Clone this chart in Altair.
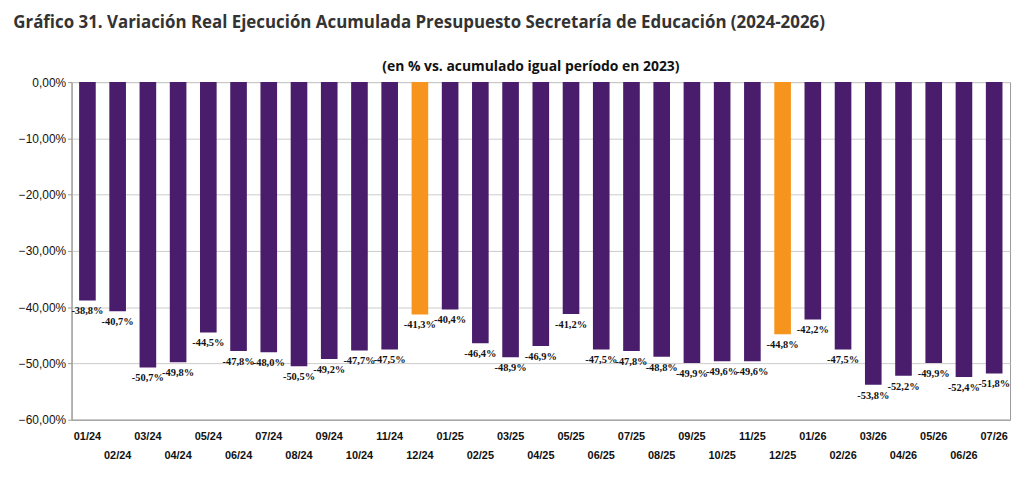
import altair as alt
import pandas as pd

months = ["01/24", "02/24", "03/24", "04/24", "05/24", "06/24", "07/24", "08/24", "09/24", "10/24", "11/24", "12/24",
          "01/25", "02/25", "03/25", "04/25", "05/25", "06/25", "07/25", "08/25", "09/25", "10/25", "11/25", "12/25",
          "01/26", "02/26", "03/26", "04/26", "05/26", "06/26", "07/26"]
values = [-38.8, -40.7, -50.7, -49.8, -44.5, -47.8, -48.0, -50.5, -49.2, -47.7, -47.5, -41.3,
          -40.4, -46.4, -48.9, -46.9, -41.2, -47.5, -47.8, -48.8, -49.9, -49.6, -49.6, -44.8,
          -42.2, -47.5, -53.8, -52.2, -49.9, -52.4, -51.8]
highlight = ["12/24", "12/25"]

df = pd.DataFrame({"mes": months, "valor": [v / 100 for v in values]})
df["label"] = [("%.1f%%" % v).replace(".", ",") for v in values]
df["tipo"] = ["dic" if m in highlight else "mes" for m in months]
df["row"] = [i % 2 for i in range(len(months))]

W, H = 945, 340
x = alt.X("mes:N", sort=months, title=None,
          scale=alt.Scale(paddingInner=0.45, paddingOuter=0.25),
          axis=alt.Axis(labels=False, ticks=False, domainColor="#999"))
base = alt.Chart(df).encode(x=x)

bars = base.mark_bar().encode(
    y=alt.Y("valor:Q", scale=alt.Scale(domain=[-0.6, 0]), title=None,
            axis=alt.Axis(values=[0, -0.1, -0.2, -0.3, -0.4, -0.5, -0.6],
                          labelExpr="replace(format(datum.value, '.2%'), '.', ',')",
                          labelFontSize=12, labelFont="Liberation Sans", labelColor="#111",
                          labelPadding=2, tickSize=4,
                          gridColor="#ccc", tickColor="#999", domainColor="#999")),
    color=alt.Color("tipo:N", scale=alt.Scale(domain=["mes", "dic"], range=["#4A1D6C", "#F7941D"]), legend=None),
)
labels = base.mark_text(baseline="top", dy=6, fontSize=10.5, fontWeight="bold",
                        font="Liberation Sans Narrow", color="#111").encode(
    y="valor:Q", text="label:N")
xlab0 = base.transform_filter("datum.row == 0").mark_text(
    fontSize=11, fontWeight="bold", font="Liberation Sans", color="#111").encode(
    y=alt.value(H + 17), text="mes:N")
xlab1 = base.transform_filter("datum.row == 1").mark_text(
    fontSize=11, fontWeight="bold", font="Liberation Sans", color="#111").encode(
    y=alt.value(H + 37), text="mes:N")
sub = alt.Chart(pd.DataFrame({"t": ["(en % vs. acumulado igual período en 2023)"]})).mark_text(
    fontSize=14, fontWeight="bold", font="Open Sans", color="#111").encode(
    x=alt.value(W / 2 - 10), y=alt.value(-15), text="t:N")

chart = alt.layer(bars, labels, xlab0, xlab1, sub).properties(
    width=W, height=H,
    title=alt.TitleParams("Gráfico 31. Variación Real Ejecución Acumulada Presupuesto Secretaría de Educación (2024-2026)",
                          anchor="start", fontSize=17, font="Open Sans", fontWeight="bold",
                          color="#333", offset=28, dx=-5),
).configure_view(stroke="#999")

chart.save("out.html", embed_options={"renderer": "svg", "actions": False})
